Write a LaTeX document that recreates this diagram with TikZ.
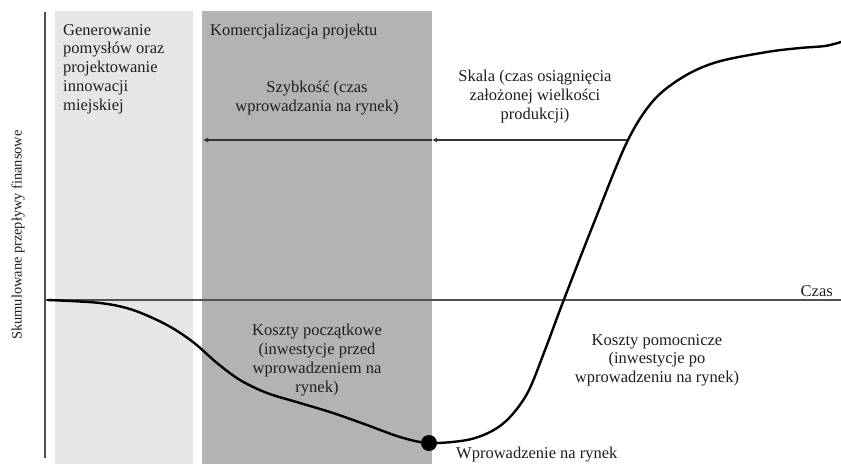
\documentclass[tikz,border=0pt]{standalone}
\usepackage{fontspec}
\setmainfont{Liberation Serif}
\usetikzlibrary{arrows.meta}
\definecolor{panelLight}{HTML}{E6E6E6}
\definecolor{panelDark}{HTML}{B3B3B3}
\definecolor{axisGray}{HTML}{505050}
\definecolor{inkText}{HTML}{1E1E1E}
\begin{document}
\begin{tikzpicture}[x=1pt,y=-1pt,
  lbl/.style={inner sep=0pt, text=inkText, font=\fontsize{16.5}{18.8}\selectfont},
  axisline/.style={draw=axisGray, line width=1.4pt},
  spanarrow/.style={draw=black!80, line width=1.4pt, -{Latex[length=5pt,width=5pt]}},
  curveline/.style={draw=black, line width=2.4pt, line cap=round}]
  \useasboundingbox (0,0) rectangle (841,464);
  \fill[white] (0,0) rectangle (841,464);

  % phase panels
  \fill[panelLight] (55,11) rectangle (193,464);
  \fill[panelDark] (202,11) rectangle (432,464);

  % axes
  \coordinate (ytop) at (45,12);
  \coordinate (ybot) at (45,458);
  \coordinate (origin) at (45,300);
  \coordinate (xend) at (841,300);
  \draw[axisline] (ytop) -- (ybot);
  \draw[axisline] (origin) -- (xend);

  % cumulative cash-flow curve
  \draw[curveline] plot[smooth, tension=0.55] coordinates {
    (48,300) (100,303) (133,310) (167,325) (193,342) (217,363) (240,380)
    (267,393) (300,403) (333,413) (367,425) (400,437) (429,443) (467,440)
    (492,431) (510,417) (528,392) (545,350) (563,302) (595,220) (627,142)
    (653,101) (683,77) (717,62) (767,52) (800,48) (825,46) (841,42)};

  % market launch point
  \fill[black] (429,443) circle (8);
  \node[lbl, anchor=north west] (launch) at (456,447) {Wprowadzenie na rynek};

  % time spans
  \coordinate (arrowL) at (203,140);
  \coordinate (arrowM) at (432,140);
  \coordinate (arrowR) at (627,140);
  \draw[spanarrow] (arrowM) -- (arrowL);
  \draw[spanarrow] (arrowR) -- (arrowM);

  % labels
  \node[lbl, anchor=north west, align=left] (gen) at (63,24)
    {Generowanie\\pomysłów oraz\\projektowanie\\innowacji\\miejskiej};
  \node[lbl, anchor=north west] (kom) at (210,24) {Komercjalizacja projektu};
  \node[lbl, anchor=north, align=center] (speed) at (317,81)
    {Szybkość (czas\\wprowadzania na rynek)};
  \node[lbl, anchor=north, align=center] (scale) at (535,70)
    {Skala (czas osiągnięcia\\założonej wielkości\\produkcji)};
  \node[lbl, anchor=north, align=center] (initcost) at (317,324)
    {Koszty początkowe\\(inwestycje przed\\wprowadzeniem na\\rynek)};
  \node[lbl, anchor=north, align=center] (auxcost) at (657,334)
    {Koszty pomocnicze\\(inwestycje po\\wprowadzeniu na rynek)};
  \node[lbl, anchor=base east] (time) at (833,296) {Czas};
  \node[inner sep=0pt, text=inkText, font=\fontsize{14.4}{16}\selectfont, rotate=90] (ylabel) at (18,235)
    {Skumulowane przepływy finansowe};
\end{tikzpicture}
\end{document}
